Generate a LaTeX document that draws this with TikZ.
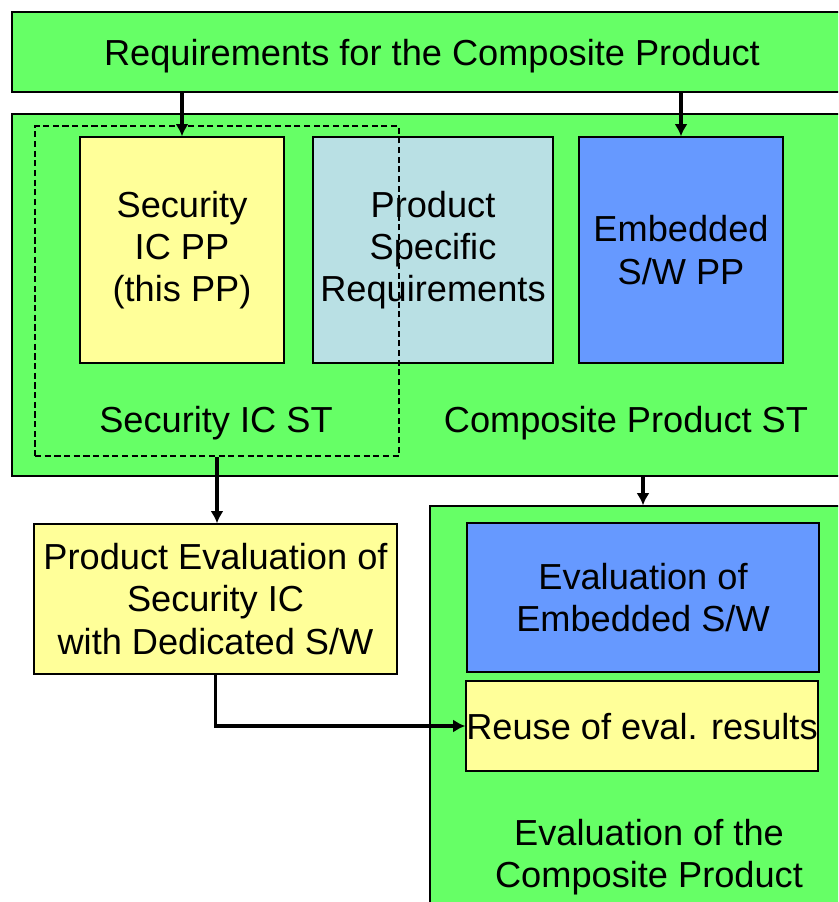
\documentclass[tikz,border=0pt]{standalone}
\usepackage{fontspec}
\setmainfont{Liberation Sans}
\usepackage{tikz}
\usetikzlibrary{shapes,arrows.meta}
\usepackage{color}

\definecolor{boxgreen}{RGB}{102,255,102}
\definecolor{boxyellow}{RGB}{255,255,153}
\definecolor{boxblue}{RGB}{102,153,255}
\definecolor{boxcyan}{RGB}{185,224,228}

\begin{document}
\begin{tikzpicture}[x=0.02cm,y=-0.02cm,
    box/.style={draw,rectangle,inner sep=0pt,align=center,line width=0.8pt,font=\fontsize{20.6}{24}\selectfont},
    txt/.style={inner sep=0pt,align=center,font=\fontsize{20.6}{24}\selectfont},
    flow/.style={->,>={Latex[length=7pt,width=7.5pt]},line width=1.9pt}]
  \clip (0,0) rectangle (838,902);
  \useasboundingbox (0,0) rectangle (838,902);

  \node[box,minimum width=168mm,minimum height=16mm,fill=boxgreen,text depth=0pt] at (432,52) (req) {Requirements for the Composite Product};
  \node[box,minimum width=168mm,minimum height=72.4mm,fill=boxgreen] at (432,295) (compst) {};

  \node[box,minimum width=40.8mm,minimum height=45.2mm,fill=boxyellow] at (182,250) (secpp) {Security\\ IC PP\\ (this PP)};
  \node[box,minimum width=48mm,minimum height=45.2mm,fill=boxcyan] at (433,250) (psr) {Product\\ Specific\\ Requirements};
  \node[box,minimum width=40.8mm,minimum height=45.2mm,fill=boxblue] at (681,250) (swpp) {Embedded\\ S/W PP};

  \node[box,dash pattern=on 3.5pt off 2pt,line width=1.3pt,minimum width=72.8mm,minimum height=66mm] at (217,291) (sicst) {};
  \node[txt] at (216,423) (sicst-l) {Security IC ST};
  \node[txt] at (626,423) (compst-l) {Composite Product ST};

  \draw[flow] (secpp.north |- req.south) -- (secpp.north);
  \draw[flow] (swpp.north |- req.south) -- (swpp.north);

  \node[box,minimum width=72.6mm,minimum height=30mm,fill=boxyellow] at (215.5,599) (prodeval) {Product Evaluation of\\ Security IC\\ with Dedicated S/W};

  \node[box,minimum width=87.6mm,minimum height=84.8mm,fill=boxgreen] at (649,718) (evalcomp) {};
  \node[box,minimum width=70.4mm,minimum height=29.8mm,fill=boxblue] at (643,597.5) (evalsw) {Evaluation of\\ Embedded S/W};
  \node[box,minimum width=70.4mm,minimum height=18mm,fill=boxyellow,text depth=0pt] at (642,726) (reuse) {Reuse of eval. results};
  \node[txt] at (649,857) (evalcomp-l) {Evaluation of the\\ Composite Product};

  \draw[flow] (sicst.south) -- (sicst.south |- prodeval.north);
  \draw[flow] (evalsw.north |- compst.south) -- (evalsw.north |- evalcomp.north);
  \draw[flow] (prodeval.south) |- (reuse.west);

\end{tikzpicture}
\end{document}
